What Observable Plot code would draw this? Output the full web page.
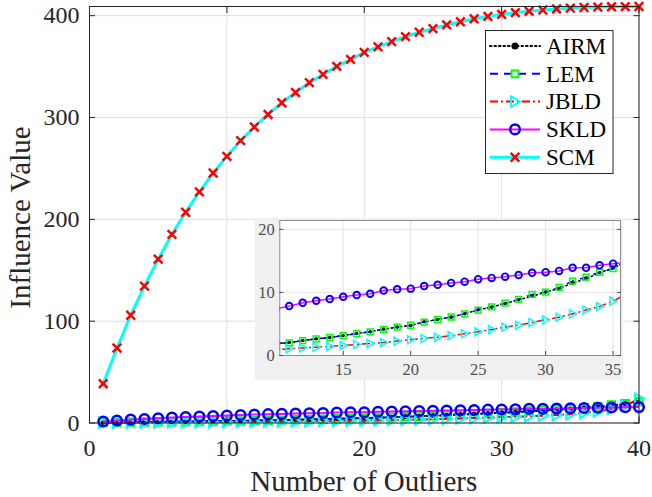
<!DOCTYPE html>
<html><head><meta charset="utf-8">
<script src="https://cdn.jsdelivr.net/npm/d3@7"></script>
<script src="https://cdn.jsdelivr.net/npm/@observablehq/plot@0.6"></script>
<style>
html,body{margin:0;padding:0;background:#fff;}
#wrap{position:relative;width:652px;height:497px;font-family:"Liberation Serif","Times New Roman",serif;}
#wrap svg{position:absolute;}
#wrap svg text{font-family:"Liberation Serif","Times New Roman",serif !important;}
</style></head><body><div id="wrap"></div>
<script>
// ---------- data ----------
const outliers = [1,2,3,4,5,6,7,8,9,10,11,12,13,14,15,16,17,18,19,20,21,22,23,24,25,26,27,28,29,30,31,32,33,34,35,36,37,38,39,40];
const airm = [0.3,0.5,0.7,0.9,1.05,1.2,1.4,1.55,1.7,1.85,2.06,2.38,2.65,2.86,3.17,3.49,3.76,4.18,4.5,4.76,5.34,5.71,6.08,6.61,7.25,7.67,8.25,8.84,9.37,10.05,10.63,11.48,12.17,13.12,13.86,14.9,16.0,17.3,18.8,20.5];
const lem = [0.35,0.55,0.75,0.95,1.1,1.25,1.45,1.6,1.75,1.9,2.0,2.35,2.62,2.85,3.15,3.45,3.75,4.15,4.5,4.8,5.3,5.7,6.1,6.6,7.2,7.7,8.3,8.9,9.68,10.05,10.8,11.8,12.43,13.2,13.76,15.0,16.3,17.6,19.0,20.8];
const jbld = [0.2,0.28,0.36,0.44,0.52,0.6,0.68,0.77,0.86,0.95,1.06,1.2,1.32,1.43,1.59,1.75,1.9,2.06,2.28,2.49,2.7,2.9,3.17,3.44,3.76,4.13,4.5,4.8,5.24,5.66,6.08,6.61,7.2,7.78,8.62,9.8,11.4,13.6,17.0,24.0];
const skld = [1.5,2.5,3.3,4.0,4.7,5.3,5.9,6.4,6.9,7.4,7.83,8.36,8.68,8.94,9.31,9.58,9.79,10.3,10.5,10.6,11.0,11.2,11.5,11.7,12.1,12.3,12.5,12.75,13.1,13.2,13.4,13.9,13.9,14.3,14.55,14.8,15.0,15.2,15.4,15.6];
const scm = [38.6,73.6,105.8,134.4,160.9,185.2,207,227,245.5,261.8,277.3,290.7,303,314.5,324.6,334.2,342.3,350.2,357.1,364,369.3,374.5,379.4,383.7,387.3,391,394,396.9,399.3,401.3,403,404.4,405.6,406.6,407.4,408,408.4,408.7,408.9,409];
const seriesNames = ["AIRM","LEM","JBLD","SKLD","SCM"];
const xTicks = [0,10,20,30,40];
const yTicks = [0,100,200,300,400];
const insetXTicks = [15,20,25,30,35];
const insetYTicks = [0,10,20];
const xLabel = "Number of Outliers";
const yLabel = "Influence Value";

// ---------- styles ----------
const FONT = '"Liberation Serif","Times New Roman",serif';
const triRight = {draw(ctx, size){ const r = Math.sqrt(size/Math.PI); ctx.moveTo(r*0.95,0); ctx.lineTo(-r*0.75,-r*0.95); ctx.lineTo(-r*0.75,r*0.95); ctx.closePath(); }};
const values = {AIRM: airm, LEM: lem, JBLD: jbld, SKLD: skld, SCM: scm};
const styles = {
  AIRM: {line:"#000000", dash:"1.5,3", lw:2, cap:"round", sym:"circle", d3sym:d3.symbolCircle, fill:"#000000", stroke:"none", sw:0, r:2.5, ir:1.8, lr:3.5},
  LEM:  {line:"#0000ff", dash:"8,6", lw:2, cap:"butt", sym:"square", d3sym:d3.symbolSquare, fill:"none", stroke:"#00ff00", sw:2, r:4.2, ir:3.3, lr:3.8},
  JBLD: {line:"#ff0000", dash:"8,3,2,3", lw:2, cap:"butt", sym:triRight, d3sym:triRight, fill:"none", stroke:"#00ffff", sw:2, r:5.5, ir:4.2, lr:5.5},
  SKLD: {line:"#ff00ff", dash:null, lw:2, cap:"butt", sym:"circle", d3sym:d3.symbolCircle, fill:"none", stroke:"#0000ff", sw:2.5, r:4.8, ir:3.3, lr:4.8},
  SCM:  {line:"#00ffff", dash:null, lw:3, cap:"butt", sym:"times", d3sym:d3.symbolTimes, fill:"none", stroke:"#ff0000", sw:2.5, r:4, ir:3, lr:4}
};
const rows = v => outliers.map((x,i)=>({x, y: v[i]}));

function seriesMarks(scale, clip){
  const marks = [];
  for (const n of seriesNames){
    const s = styles[n], d = rows(values[n]);
    marks.push(Plot.line(d, {x:"x", y:"y", stroke:s.line, strokeWidth: s.lw*scale, strokeDasharray: s.dash, strokeLinecap: s.cap, clip}));
    marks.push(Plot.dot(d, {x:"x", y:"y", symbol:s.sym, r: scale===1 ? s.r : s.ir, fill:s.fill, stroke:s.stroke, strokeWidth: s.sw*scale, clip}));
  }
  return marks;
}

const wrap = document.getElementById("wrap");

// ---------- main chart ----------
const main = Plot.plot({
  width: 652, height: 497,
  marginLeft: 89, marginRight: 13.5, marginTop: 6, marginBottom: 74.5,
  x: {domain:[0,40]}, y: {domain:[0,409]},
  style: {fontFamily: FONT, background:"transparent", overflow:"visible"},
  marks: [
    Plot.gridX(xTicks, {stroke:"#dedede", strokeOpacity:1}),
    Plot.gridY(yTicks, {stroke:"#dedede", strokeOpacity:1}),
    ...seriesMarks(1, false),
    Plot.frame({stroke:"#262626", strokeWidth:1}),
    Plot.axisX(xTicks, {anchor:"bottom", tickSize:-6, tickPadding:22, fontSize:24, fontFamily:FONT, color:"#262626", label:null}),
    Plot.axisX(xTicks, {anchor:"top", tickSize:-6, tickFormat:()=>"", color:"#262626", label:null}),
    Plot.axisY(yTicks, {anchor:"left", tickSize:-6, tickPadding:16, fontSize:24, fontFamily:FONT, color:"#262626", label:null}),
    Plot.axisY(yTicks, {anchor:"right", tickSize:-6, tickFormat:()=>"", color:"#262626", label:null})
  ]
});
main.style.left = "0px"; main.style.top = "0px";
wrap.appendChild(main);
const ms = d3.select(main);
ms.append("text").attr("x", 363.75).attr("y", 491).attr("text-anchor","middle")
  .style("font-family", FONT).attr("font-size", 29).attr("fill","#262626").text(xLabel);
ms.append("text").attr("transform","translate(30,217.5) rotate(-90)").attr("text-anchor","middle")
  .style("font-family", FONT).attr("font-size", 29).attr("fill","#262626").text(yLabel);

// ---------- inset ----------
const inset = Plot.plot({
  width: 368, height: 162,
  marginLeft: 24.3, marginRight: 3, marginTop: 2, marginBottom: 25,
  x: {domain:[10.3,35.55]}, y: {domain:[0,21.4]},
  style: {fontFamily: FONT, background:"#f0f0f0", overflow:"visible"},
  marks: [
    Plot.frame({fill:"#ffffff"}),
    Plot.gridX(insetXTicks, {stroke:"#e3e3e3", strokeOpacity:1}),
    Plot.gridY(insetYTicks, {stroke:"#e3e3e3", strokeOpacity:1}),
    ...seriesMarks(0.75, true),
    Plot.frame({stroke:"#8c8c8c", strokeWidth:1}),
    Plot.axisX(insetXTicks, {anchor:"bottom", tickSize:-4, tickPadding:12, fontSize:16.5, fontFamily:FONT, color:"#4d4d4d", label:null}),
    Plot.axisY(insetYTicks, {anchor:"left", tickSize:-4, tickPadding:9, fontSize:16.5, fontFamily:FONT, color:"#4d4d4d", label:null}),
    Plot.axisY(insetYTicks, {anchor:"right", tickSize:-4, tickFormat:()=>"", color:"#4d4d4d", label:null})
  ]
});
inset.style.left = "255px"; inset.style.top = "218px";
wrap.appendChild(inset);

// ---------- legend ----------
const leg = d3.select(wrap).append("svg").attr("width",130).attr("height",145)
  .style("left","485px").style("top","30px");
leg.append("rect").attr("x",0.5).attr("y",0.5).attr("width",127.5).attr("height",143)
  .attr("fill","#fff").attr("stroke","#262626").attr("stroke-width",1);
seriesNames.forEach((n,i)=>{
  const s = styles[n], cy = 16 + 27.8*i;
  const g = leg.append("g");
  g.append("line").attr("x1",5).attr("x2",55).attr("y1",cy).attr("y2",cy)
    .attr("stroke",s.line).attr("stroke-width",s.lw).attr("stroke-dasharray",s.dash)
    .attr("stroke-linecap",s.cap);
  g.append("path").attr("transform",`translate(30,${cy})`)
    .attr("d", d3.symbol(s.d3sym, Math.PI*s.lr*s.lr)())
    .attr("fill",s.fill).attr("stroke",s.stroke).attr("stroke-width",s.sw);
  g.append("text").attr("x",61).attr("y",cy+7.8).attr("font-size",23)
    .style("font-family", FONT).attr("fill","#000").text(n);
});
</script></body></html>
